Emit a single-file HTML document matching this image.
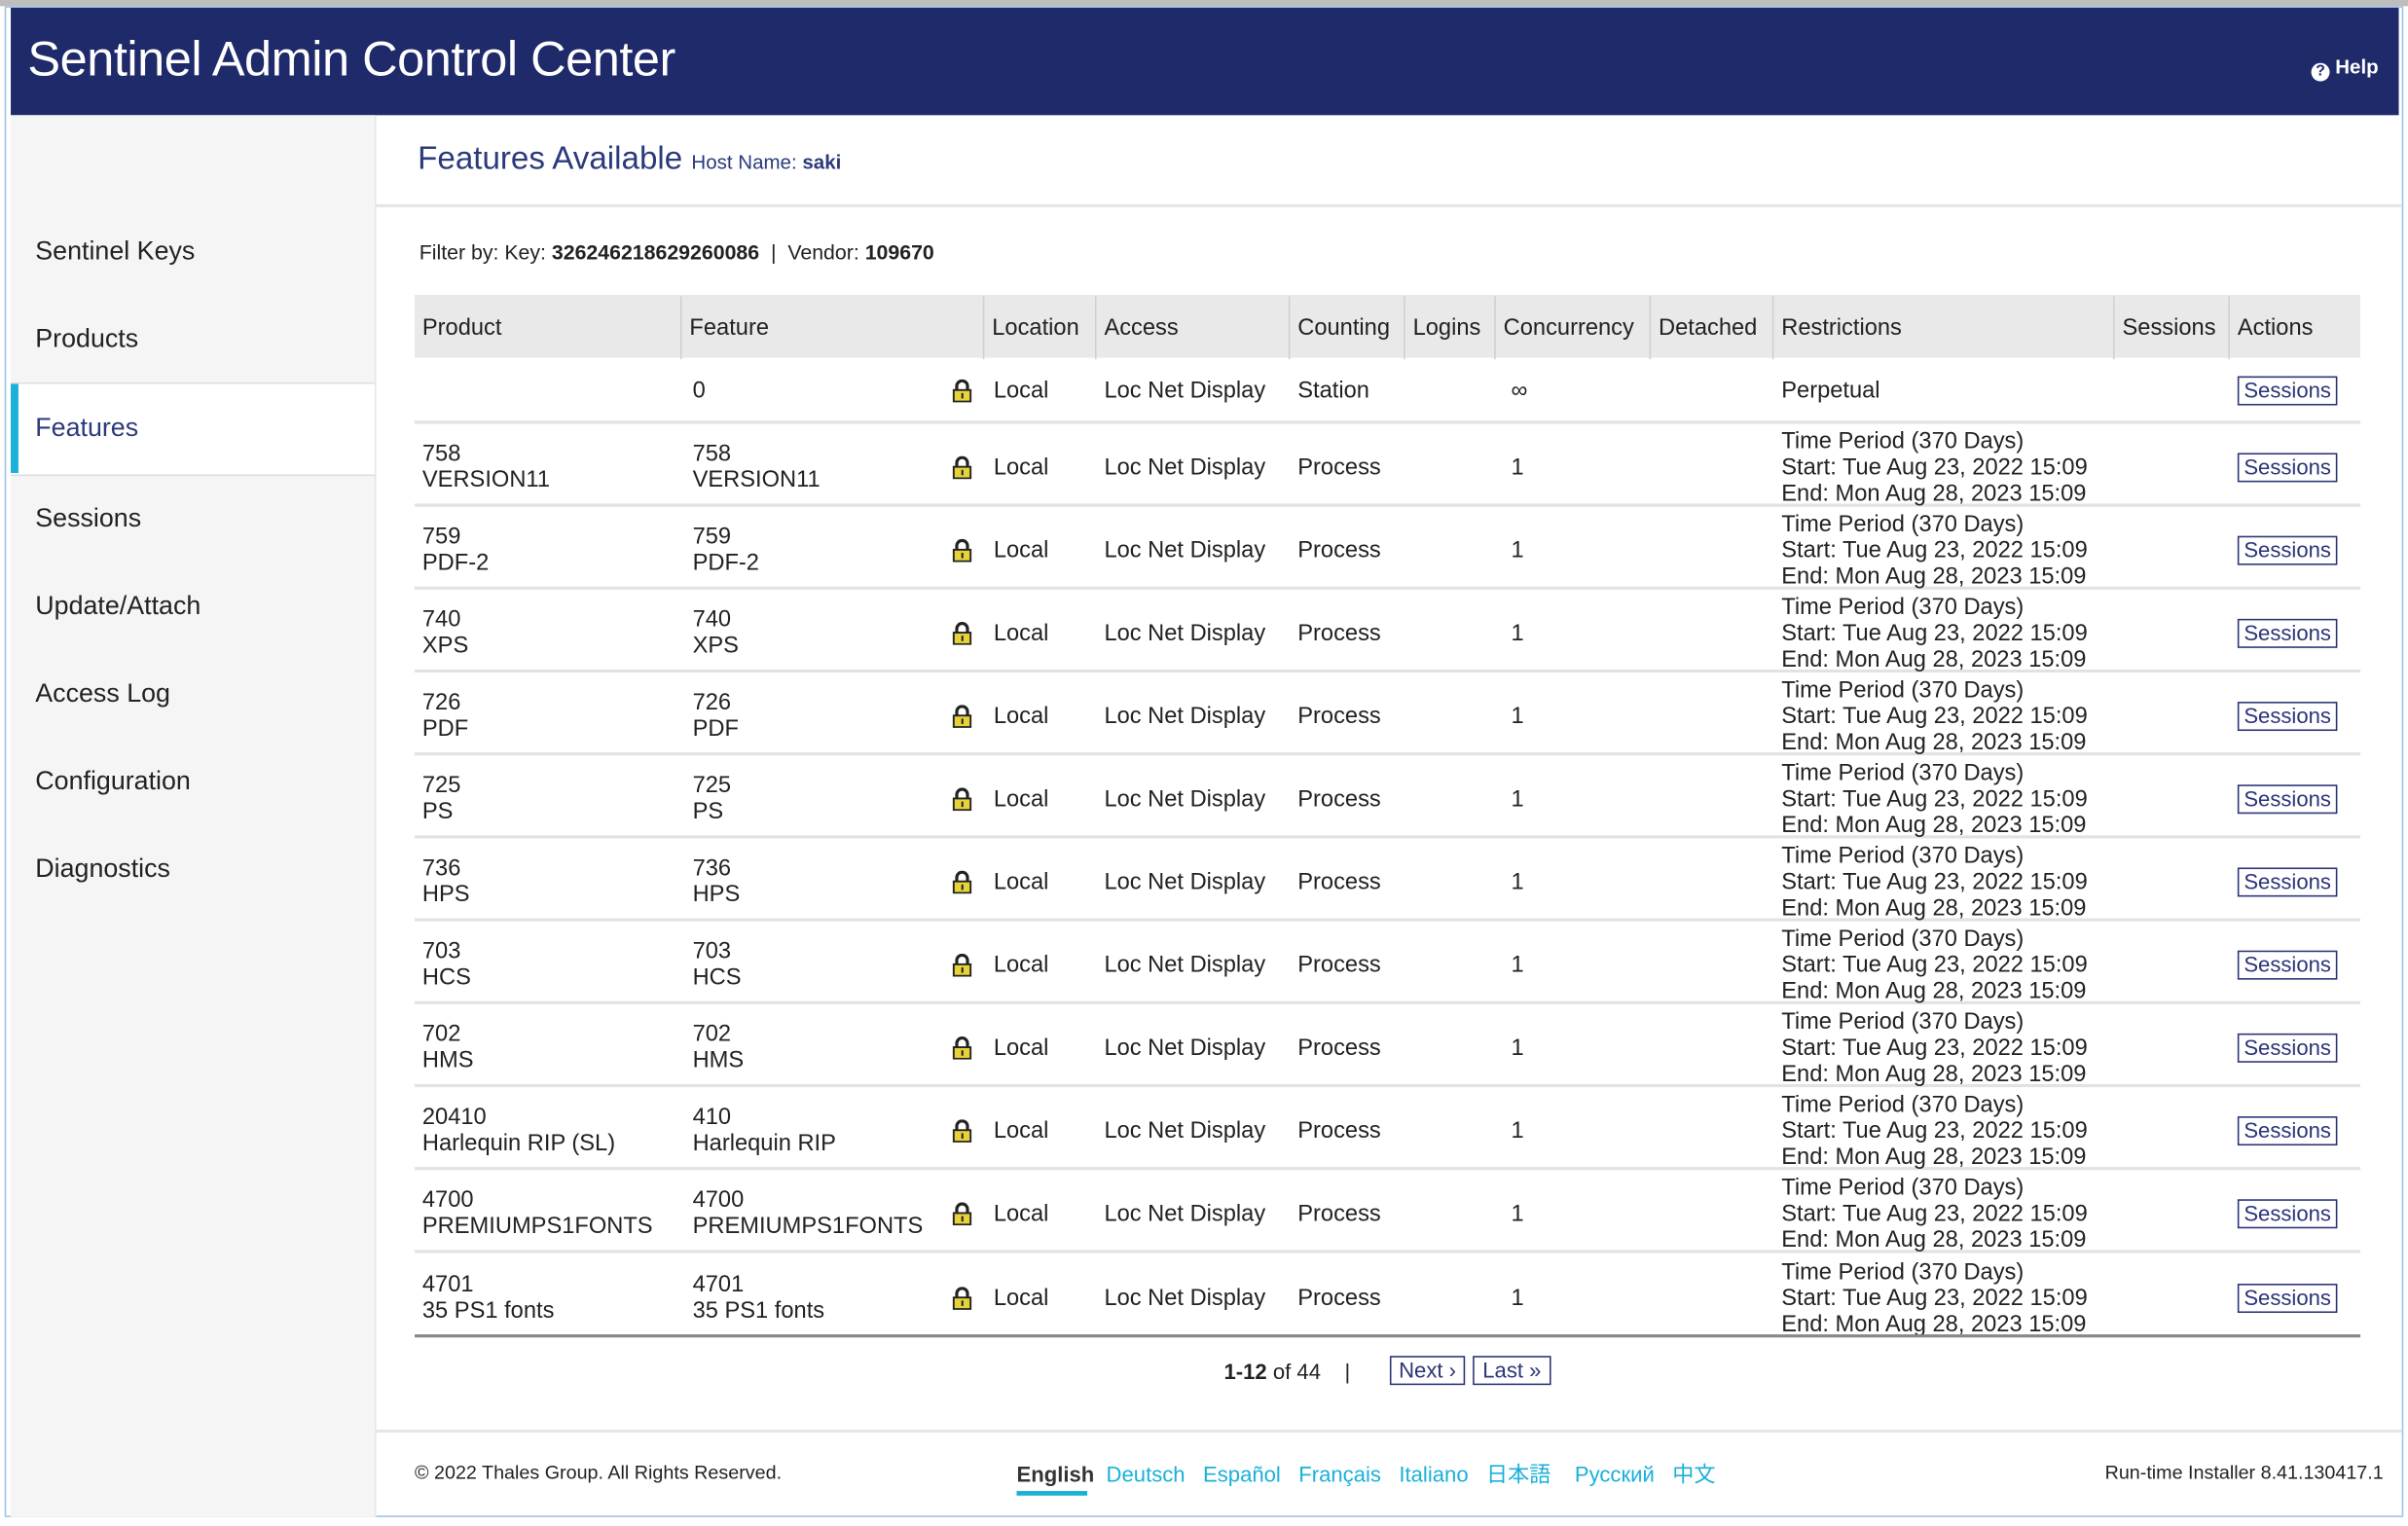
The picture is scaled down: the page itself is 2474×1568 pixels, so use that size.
<!DOCTYPE html>
<html><head><meta charset="utf-8"><style>
html,body{margin:0;padding:0;background:#fff;}
body{width:2474px;height:1568px;overflow:hidden;position:relative;}
#w{position:absolute;left:0;top:0;width:1568px;height:994px;transform:scale(1.5778);transform-origin:0 0;font-family:"Liberation Sans",Arial,sans-serif;color:#222;}
.a{position:absolute;white-space:nowrap;}
.nav{position:absolute;left:23px;font-size:17px;color:#222;}
.row{position:absolute;left:270px;width:1267px;height:54px;border-bottom:2px solid #e2e2e2;font-size:15px;}
.c{position:absolute;top:0;height:100%;display:flex;align-items:center;line-height:17px;white-space:nowrap;}
.btn{position:absolute;left:1187px;width:63px;height:17px;border:1.5px solid #2b3578;font-size:14px;color:#2b3578;text-align:center;line-height:17px;}
.hd{position:absolute;top:0;height:41px;line-height:41px;font-size:15px;padding-left:5px;border-left:1px solid #d0d0d0;}
.lang{color:#1ab0d8;}
</style></head><body><div id="w">
<div class="a" style="left:0;top:0;width:1568px;height:4px;background:#bdbdbd"></div>
<div class="a" style="left:3px;top:4px;width:1562px;height:984px;border:1px solid #9fc3e6;box-sizing:border-box"></div>
<div class="a" style="left:7px;top:5px;width:1555px;height:70px;background:#1f2a6b"></div>
<div class="a" style="left:18px;top:20px;font-size:32px;color:#fff;letter-spacing:-0.3px">Sentinel Admin Control Center</div>
<div class="a" style="left:1505px;top:36px;font-size:13px;color:#fff;font-weight:bold"><span style="display:inline-block;width:12px;height:12px;border-radius:6px;background:#fff;color:#1f2a6b;font-size:10px;line-height:12px;text-align:center;vertical-align:-1px">?</span> Help</div>
<div class="a" style="left:7px;top:75px;width:237px;height:913px;background:#f5f5f5;border-right:1px solid #e6e6e6"></div>
<div class="a" style="left:7px;top:249px;width:237px;height:59px;background:#fff;border-top:1px solid #ddd;border-bottom:1px solid #ddd"></div>
<div class="a" style="left:7px;top:250px;width:5px;height:58px;background:#1ab0d8"></div>
<div class="nav" style="top:154px">Sentinel Keys</div>
<div class="nav" style="top:211px">Products</div>
<div class="nav" style="top:269px;color:#2b3a7a">Features</div>
<div class="nav" style="top:328px">Sessions</div>
<div class="nav" style="top:385px">Update/Attach</div>
<div class="nav" style="top:442px">Access Log</div>
<div class="nav" style="top:499px">Configuration</div>
<div class="nav" style="top:556px">Diagnostics</div>
<div class="a" style="left:272px;top:92px;font-size:21px;color:#2b3a7a">Features Available <span style="font-size:13px">Host Name: <b>saki</b></span></div>
<div class="a" style="left:244px;top:133px;width:1320px;height:2px;background:#e6e6e6"></div>
<div class="a" style="left:273px;top:157px;font-size:13.5px">Filter by: Key: <b>326246218629260086</b> &nbsp;| &nbsp;Vendor: <b>109670</b></div>
<div class="a" style="left:270px;top:192px;width:1267px;height:41px;background:#e9e9e9">
<div class="hd" style="left:0;border-left:none;top:1px">Product</div>
<div class="hd" style="left:173px;top:1px">Feature</div>
<div class="hd" style="left:370px;top:1px">Location</div>
<div class="hd" style="left:443px;top:1px">Access</div>
<div class="hd" style="left:569px;top:1px">Counting</div>
<div class="hd" style="left:644px;top:1px">Logins</div>
<div class="hd" style="left:703px;top:1px">Concurrency</div>
<div class="hd" style="left:804px;top:1px">Detached</div>
<div class="hd" style="left:884px;top:1px">Restrictions</div>
<div class="hd" style="left:1106px;top:1px">Sessions</div>
<div class="hd" style="left:1181px;top:1px">Actions</div>
</div>
<div class="row" style="top:235px;height:39px">
<div class="c" style="left:181px">0</div>
<div class="c" style="left:350px"><svg width="13" height="15" viewBox="0 0 13 15"><path d="M3 7V4.5a3.5 3.5 0 0 1 7 0V7" fill="none" stroke="#222" stroke-width="2"/><rect x="1" y="7" width="11" height="7.5" fill="#e8d23a" stroke="#222" stroke-width="1.2"/><rect x="6" y="9" width="1.3" height="3.5" fill="#222"/></svg></div>
<div class="c" style="left:377px">Local</div><div class="c" style="left:449px">Loc Net Display</div><div class="c" style="left:575px">Station</div><div class="c" style="left:714px">∞</div><div class="c" style="left:890px">Perpetual</div>
<div class="c" style="left:0;width:100%"><div class="btn" style="position:relative;left:1187px">Sessions</div></div>
</div>
<div id="rows"></div>
<div class="a" style="left:270px;top:869px;width:1267px;height:2px;background:#888"></div>
<div class="a" style="left:797px;top:885px;font-size:14px"><b>1-12</b> of 44 &nbsp;&nbsp;&nbsp;|</div>
<div class="a" style="left:905px;top:883px;width:47px;height:17px;border:1.5px solid #2b3578;font-size:14px;color:#2b3578;text-align:center;line-height:17px">Next ›</div>
<div class="a" style="left:959px;top:883px;width:49px;height:17px;border:1.5px solid #2b3578;font-size:14px;color:#2b3578;text-align:center;line-height:17px">Last »</div>
<div class="a" style="left:244px;top:931px;width:1320px;height:2px;background:#e6e6e6"></div>
<div class="a" style="left:270px;top:952px;font-size:12.5px">© 2022 Thales Group. All Rights Reserved.</div>
<div class="a" style="left:662px;top:950px;font-size:14px;font-family:'Liberation Sans','Noto Sans CJK JP',sans-serif">
<span style="font-weight:bold;color:#333">English</span>&nbsp;&nbsp;<span class="lang">Deutsch</span>&nbsp;&nbsp; <span class="lang">Español</span>&nbsp;&nbsp; <span class="lang">Français</span>&nbsp;&nbsp; <span class="lang">Italiano</span>&nbsp;&nbsp; <span class="lang">日本語</span>&nbsp;&nbsp;&nbsp; <span class="lang">Русский</span>&nbsp;&nbsp; <span class="lang">中文</span></div>
<div class="a" style="left:662px;top:971px;width:46px;height:3px;background:#1ab0d8"></div>
<div class="a" style="right:16px;top:952px;font-size:12.5px">Run-time Installer 8.41.130417.1</div>
</div>
<script>
var d=[["758","VERSION11","758","VERSION11"],["759","PDF-2","759","PDF-2"],["740","XPS","740","XPS"],["726","PDF","726","PDF"],["725","PS","725","PS"],["736","HPS","736","HPS"],["703","HCS","703","HCS"],["702","HMS","702","HMS"],["20410","Harlequin RIP (SL)","410","Harlequin RIP"],["4700","PREMIUMPS1FONTS","4700","PREMIUMPS1FONTS"],["4701","35 PS1 fonts","4701","35 PS1 fonts"]];
var lock='<svg width="13" height="15" viewBox="0 0 13 15"><path d="M3 7V4.5a3.5 3.5 0 0 1 7 0V7" fill="none" stroke="#222" stroke-width="2"/><rect x="1" y="7" width="11" height="7.5" fill="#e8d23a" stroke="#222" stroke-width="1.2"/><rect x="6" y="9" width="1.3" height="3.5" fill="#222"/></svg>';
var h='';
for(var i=0;i<d.length;i++){var t=276+54*i;var last=i==d.length-1;
h+='<div class="row" style="top:'+t+'px;height:'+(last?54:52)+'px;'+(last?'border-bottom:none':'')+'"><div style="position:absolute;left:0;top:2px;width:100%;height:100%">'+
'<div class="c" style="left:5px">'+d[i][0]+'<br>'+d[i][1]+'</div>'+
'<div class="c" style="left:181px">'+d[i][2]+'<br>'+d[i][3]+'</div>'+
'<div class="c" style="left:350px">'+lock+'</div>'+
'<div class="c" style="left:377px">Local</div><div class="c" style="left:449px">Loc Net Display</div><div class="c" style="left:575px">Process</div><div class="c" style="left:714px">1</div>'+
'<div class="c" style="left:890px">Time Period (370 Days)<br>Start: Tue Aug 23, 2022 15:09<br>End: Mon Aug 28, 2023 15:09</div>'+
'<div class="c" style="left:0;width:100%"><div class="btn" style="position:relative;left:1187px">Sessions</div></div></div></div>';}
document.getElementById('rows').innerHTML=h;
</script>
</body></html>
